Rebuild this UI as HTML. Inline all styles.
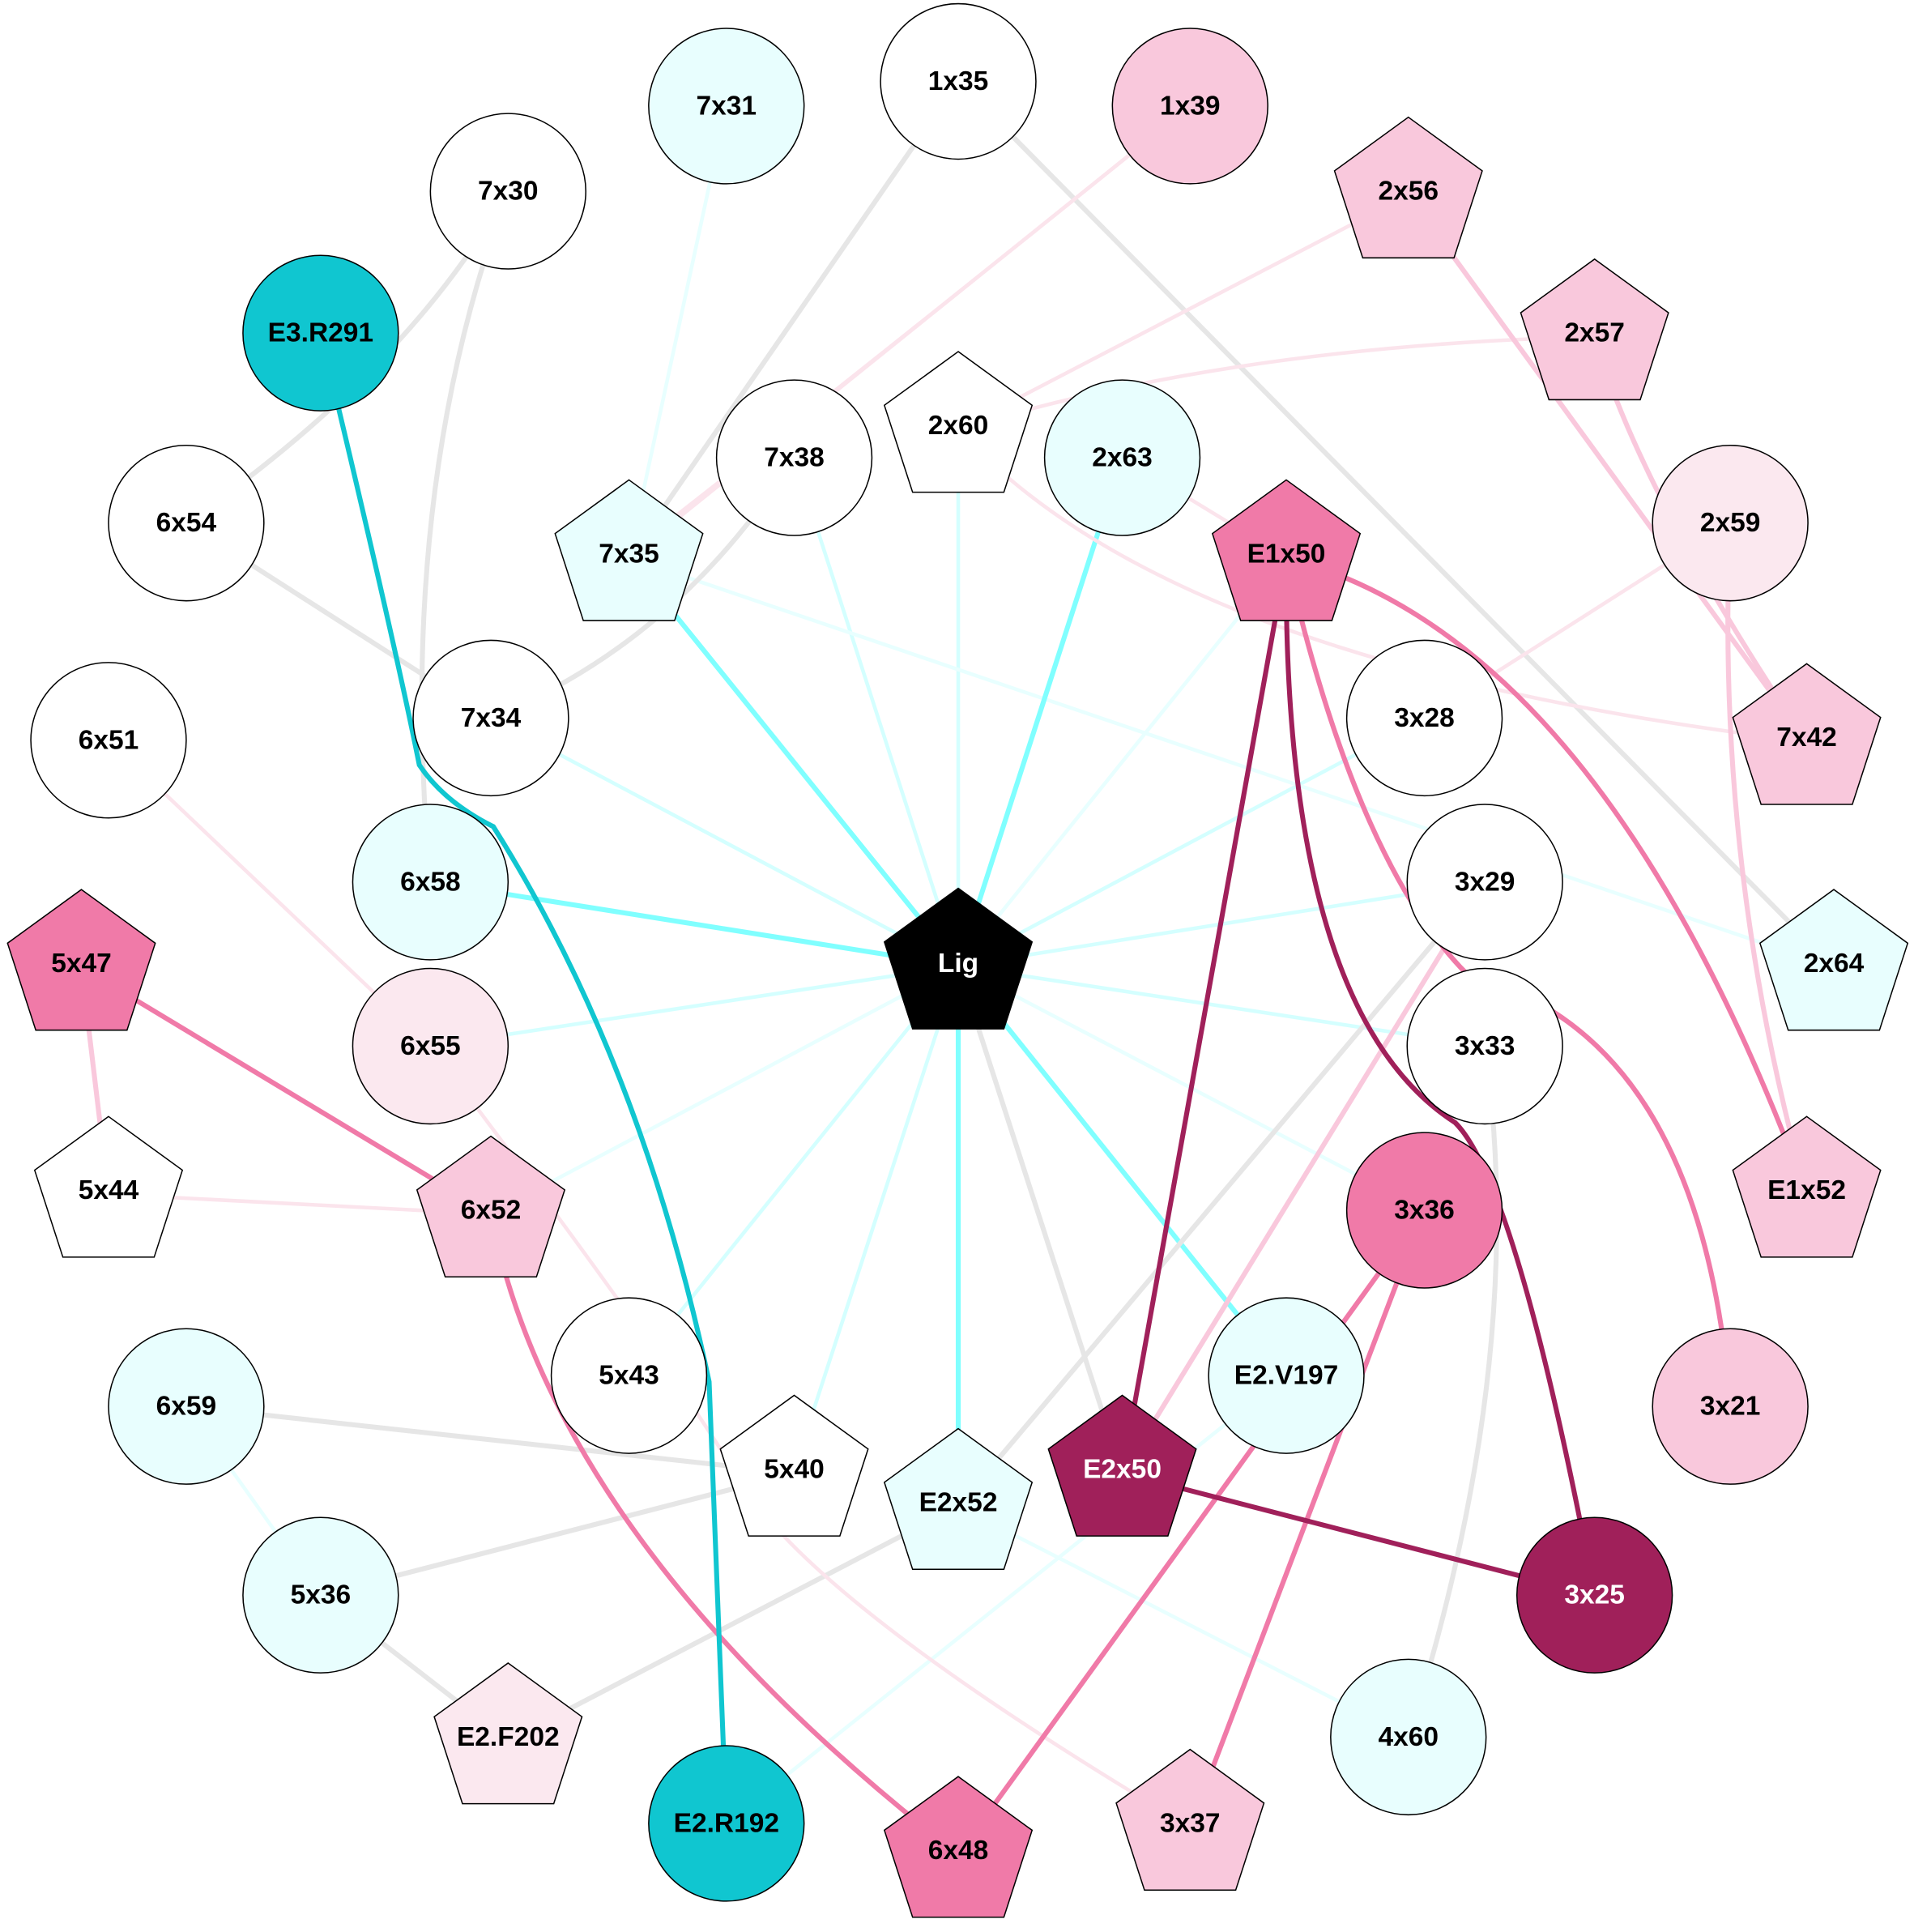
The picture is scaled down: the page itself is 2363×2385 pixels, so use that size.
<!DOCTYPE html>
<html><head><style>html,body{margin:0;padding:0;background:#fff}svg{display:block}</style></head><body>
<svg width="2363" height="2385" viewBox="0 0 1552 1566" preserveAspectRatio="none" xmlns="http://www.w3.org/2000/svg">
<g fill="none" stroke-linecap="round">
<g stroke="#d4ffff" stroke-width="3">
<line x1="777" y1="783" x2="644" y2="371"/>
<line x1="777" y1="783" x2="777" y2="345"/>
<line x1="777" y1="783" x2="398" y2="582"/>
<line x1="777" y1="783" x2="1155" y2="582"/>
<line x1="777" y1="783" x2="1204" y2="715"/>
<line x1="777" y1="783" x2="349" y2="848"/>
<line x1="777" y1="783" x2="1204" y2="848"/>
<line x1="777" y1="783" x2="510" y2="1115"/>
<line x1="777" y1="783" x2="644" y2="1191"/>
</g>
<g stroke="#e8ffff" stroke-width="3">
<line x1="777" y1="783" x2="1043" y2="452"/>
<line x1="777" y1="783" x2="1155" y2="981"/>
<line x1="777" y1="783" x2="398" y2="984"/>
<line x1="510" y1="452" x2="1487" y2="784"/>
<line x1="589" y1="86" x2="510" y2="452"/>
<line x1="1043" y1="1115" x2="589" y2="1478"/>
<line x1="777" y1="1221" x2="1142" y2="1408"/>
<line x1="151" y1="1140" x2="260" y2="1293"/>
</g>
<g stroke="#80ffff" stroke-width="4">
<line x1="777" y1="783" x2="510" y2="452"/>
<line x1="777" y1="783" x2="910" y2="371"/>
<line x1="777" y1="783" x2="349" y2="715"/>
<line x1="777" y1="783" x2="777" y2="1221"/>
<line x1="777" y1="783" x2="1043" y2="1115"/>
</g>
<g stroke="#e6e6e6" stroke-width="4">
<line x1="777" y1="783" x2="910" y2="1194"/>
<path d="M777,66 L510,452"/>
<path d="M777,66 L1487,784"/>
<path d="M412,155 Q330,300 151,424"/>
<path d="M412,155 Q320,400 349,715"/>
<path d="M151,424 L398,582"/>
<path d="M644,371 Q550,520 398,582"/>
<path d="M1204,715 L777,1221"/>
<path d="M1204,848 Q1240,1100 1142,1408"/>
<path d="M777,1221 L412,1411"/>
<path d="M644,1194 L151,1140"/>
<path d="M644,1194 L260,1293"/>
<path d="M260,1293 L412,1411"/>
</g>
<g stroke="#fbe4ec" stroke-width="3">
<path d="M965,86 L510,452"/>
<path d="M965,86 Q700,300 520,440"/>
<path d="M1142,158 L777,348"/>
<path d="M1293,273 Q1000,280 777,348"/>
<path d="M1403,424 L1155,582"/>
<path d="M910,371 L1043,452"/>
<path d="M777,348 Q950,540 1465,601"/>
<path d="M88,600 L349,848"/>
<path d="M349,848 Q540,1100 600,1200 T965,1481"/>
<path d="M88,968 L398,984"/>
</g>
<g stroke="#f9c8dc" stroke-width="4">
<path d="M1142,158 L1465,601"/>
<path d="M1293,273 Q1330,400 1465,601"/>
<path d="M1403,424 Q1390,700 1465,968"/>
<path d="M66,784 L88,968"/>
<path d="M1204,715 L910,1194"/>
</g>
<g stroke="#f07aa8" stroke-width="4">
<path d="M1043,452 Q1300,520 1465,968"/>
<path d="M1043,452 Q1100,700 1190,790 Q1380,840 1403,1140"/>
<path d="M66,784 L398,984"/>
<path d="M398,984 Q450,1250 777,1503"/>
<path d="M1155,981 L777,1503"/>
<path d="M1155,981 L965,1481"/>
</g>
<g stroke="#a0205a" stroke-width="4">
<path d="M1043,452 L910,1194"/>
<path d="M1043,452 Q1040,820 1180,910 Q1230,960 1293,1293"/>
<path d="M910,1194 L1293,1293"/>
</g>
<path d="M260,270 Q320,520 340,620 Q360,650 400,670 Q520,860 575,1120 L589,1478" stroke="#10c6d0" stroke-width="4"/>
</g>
<g stroke="#000" stroke-width="1">
<circle cx="777" cy="66" r="63" fill="#fff"/>
<circle cx="589" cy="86" r="63" fill="#e8fefe"/>
<circle cx="965" cy="86" r="63" fill="#f9c8dc"/>
<circle cx="412" cy="155" r="63" fill="#fff"/>
<circle cx="260" cy="270" r="63" fill="#10c6d0"/>
<circle cx="151" cy="424" r="63" fill="#fff"/>
<circle cx="644" cy="371" r="63" fill="#fff"/>
<circle cx="910" cy="371" r="63" fill="#e8fefe"/>
<circle cx="1403" cy="424" r="63" fill="#fbe8ef"/>
<circle cx="398" cy="582" r="63" fill="#fff"/>
<circle cx="1155" cy="582" r="63" fill="#fff"/>
<circle cx="88" cy="600" r="63" fill="#fff"/>
<circle cx="349" cy="715" r="63" fill="#e8fefe"/>
<circle cx="1204" cy="715" r="63" fill="#fff"/>
<circle cx="349" cy="848" r="63" fill="#fbe8ef"/>
<circle cx="1204" cy="848" r="63" fill="#fff"/>
<circle cx="1155" cy="981" r="63" fill="#f07aa8"/>
<circle cx="151" cy="1140" r="63" fill="#e8fefe"/>
<circle cx="510" cy="1115" r="63" fill="#fff"/>
<circle cx="1043" cy="1115" r="63" fill="#e8fefe"/>
<circle cx="1403" cy="1140" r="63" fill="#f9c8dc"/>
<circle cx="260" cy="1293" r="63" fill="#e8fefe"/>
<circle cx="1293" cy="1293" r="63" fill="#a0205a"/>
<circle cx="1142" cy="1408" r="63" fill="#e8fefe"/>
<circle cx="589" cy="1478" r="63" fill="#10c6d0"/>
</g>
<defs><polygon id="p" points="0,-63 59.9,-19.5 37,51 -37,51 -59.9,-19.5"/></defs>
<g stroke="#000" stroke-width="1">
<use href="#p" x="1142" y="158" fill="#f9c8dc"/>
<use href="#p" x="1293" y="273" fill="#f9c8dc"/>
<use href="#p" x="777" y="348" fill="#fff"/>
<use href="#p" x="510" y="452" fill="#e8fefe"/>
<use href="#p" x="1043" y="452" fill="#f07aa8"/>
<use href="#p" x="1465" y="601" fill="#f9c8dc"/>
<use href="#p" x="777" y="783" fill="#000"/>
<use href="#p" x="1487" y="784" fill="#e8fefe"/>
<use href="#p" x="66" y="784" fill="#f07aa8"/>
<use href="#p" x="88" y="968" fill="#fff"/>
<use href="#p" x="398" y="984" fill="#f9c8dc"/>
<use href="#p" x="1465" y="968" fill="#f9c8dc"/>
<use href="#p" x="644" y="1194" fill="#fff"/>
<use href="#p" x="777" y="1221" fill="#e8fefe"/>
<use href="#p" x="910" y="1194" fill="#a0205a"/>
<use href="#p" x="412" y="1411" fill="#fbe8ef"/>
<use href="#p" x="777" y="1503" fill="#f07aa8"/>
<use href="#p" x="965" y="1481" fill="#f9c8dc"/>
</g>
<g font-family="Liberation Sans, Arial, sans-serif" font-weight="bold" font-size="22" text-anchor="middle" dominant-baseline="central" fill="#000">
<text x="777" y="66">1x35</text><text x="589" y="86">7x31</text><text x="965" y="86">1x39</text>
<text x="412" y="155">7x30</text><text x="260" y="270">E3.R291</text><text x="151" y="424">6x54</text>
<text x="644" y="371">7x38</text><text x="910" y="371">2x63</text><text x="1403" y="424">2x59</text>
<text x="398" y="582">7x34</text><text x="1155" y="582">3x28</text><text x="88" y="600">6x51</text>
<text x="349" y="715">6x58</text><text x="1204" y="715">3x29</text><text x="349" y="848">6x55</text>
<text x="1204" y="848">3x33</text><text x="1155" y="981">3x36</text><text x="151" y="1140">6x59</text>
<text x="510" y="1115">5x43</text><text x="1043" y="1115">E2.V197</text><text x="1403" y="1140">3x21</text>
<text x="260" y="1293">5x36</text><text x="1293" y="1293" fill="#fff">3x25</text><text x="1142" y="1408">4x60</text>
<text x="589" y="1478">E2.R192</text>
<text x="1142" y="155">2x56</text><text x="1293" y="270">2x57</text><text x="777" y="345">2x60</text>
<text x="510" y="449">7x35</text><text x="1043" y="449">E1x50</text><text x="1465" y="598">7x42</text>
<text x="777" y="781" fill="#fff">Lig</text><text x="1487" y="781">2x64</text><text x="66" y="781">5x47</text>
<text x="88" y="965">5x44</text><text x="398" y="981">6x52</text><text x="1465" y="965">E1x52</text>
<text x="644" y="1191">5x40</text><text x="777" y="1218">E2x52</text><text x="910" y="1191" fill="#fff">E2x50</text>
<text x="412" y="1408">E2.F202</text><text x="777" y="1500">6x48</text><text x="965" y="1478">3x37</text>
</g>
</svg>
</body></html>
